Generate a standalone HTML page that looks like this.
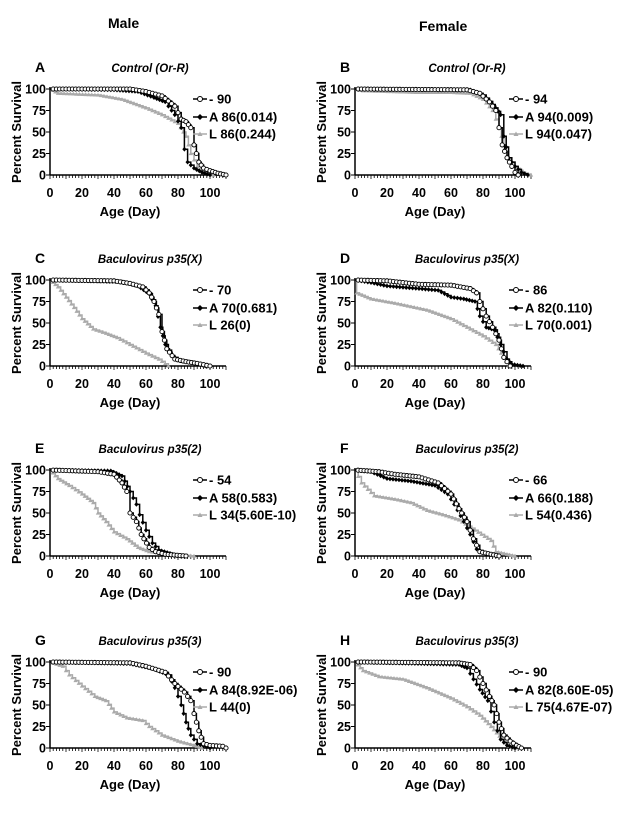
<!DOCTYPE html>
<html><head><meta charset="utf-8"><style>
body{margin:0;background:#fff;}
svg{display:block;font-family:"Liberation Sans",Arial,sans-serif;font-weight:bold;}
</style></head><body>
<svg id="fig" width="629" height="821" viewBox="0 0 629 821" xmlns="http://www.w3.org/2000/svg">
<text x="108" y="28" font-size="14">Male</text>
<text x="419" y="31" font-size="14">Female</text>
</svg>
<script>
const panelLetters=["A","B","C","D","E","F","G","H"];
const panelTitles=["Control (Or-R)","Control (Or-R)","Baculovirus p35(X)","Baculovirus p35(X)","Baculovirus p35(2)","Baculovirus p35(2)","Baculovirus p35(3)","Baculovirus p35(3)"];
const legendCtrl=["-  90","-  94","-  70","-  86","-  54","-  66","-  90","-  90"];
const legendA=["A 86(0.014)","A 94(0.009)","A 70(0.681)","A 82(0.110)","A 58(0.583)","A 66(0.188)","A 84(8.92E-06)","A 82(8.60E-05)"];
const legendL=["L 86(0.244)","L 94(0.047)","L 26(0)","L 70(0.001)","L 34(5.60E-10)","L 54(0.436)","L 44(0)","L 75(4.67E-07)"];
const xTicks=[0,20,40,60,80,100];
const yTicks=[0,25,50,75,100];
const ctrlSeries=[
[[0,100],[50,100],[60,97],[70,92],[78,80],[82,65],[85,62],[88,55],[90,35],[93,15],[96,8],[100,5],[105,2],[110,0]],
[[0,100],[70,99],[78,95],[84,85],[88,75],[90,55],[92,35],[95,20],[98,10],[100,3],[102,0]],
[[0,100],[40,99],[50,96],[58,92],[62,85],[65,75],[68,60],[70,40],[73,20],[78,8],[85,5],[92,3],[100,0]],
[[0,100],[20,99],[40,95],[60,94],[72,90],[76,85],[78,75],[82,58],[86,45],[90,30],[93,10],[97,0]],
[[0,100],[30,98],[40,95],[45,85],[48,75],[50,50],[54,40],[57,25],[62,10],[66,5],[72,2],[85,0]],
[[0,100],[15,98],[25,95],[40,92],[52,85],[60,72],[65,55],[70,40],[74,20],[78,5],[85,2],[90,0]],
[[0,100],[50,99],[60,95],[72,88],[78,75],[84,65],[88,55],[90,40],[93,20],[96,5],[100,3],[108,2],[110,0]],
[[0,100],[65,99],[72,97],[76,90],[80,75],[84,60],[87,50],[90,30],[93,15],[97,8],[101,3],[104,0]]];
const aSeries=[
[[0,100],[40,99],[55,97],[65,90],[72,85],[78,70],[82,55],[84,30],[86,15],[90,8],[95,3],[100,0]],
[[0,100],[72,99],[80,93],[86,82],[91,70],[93,45],[96,20],[100,10],[104,3],[108,0]],
[[0,100],[45,98],[55,93],[62,84],[66,70],[69,45],[72,25],[76,12],[82,6],[90,4],[97,0]],
[[0,100],[10,97],[20,93],[40,90],[52,88],[60,80],[68,78],[75,75],[78,58],[82,45],[87,42],[91,25],[95,8],[98,2],[105,0]],
[[0,100],[38,99],[45,93],[50,75],[54,60],[56,48],[60,30],[64,15],[68,7],[75,3],[80,0]],
[[0,100],[10,98],[20,90],[35,87],[50,82],[58,72],[62,60],[68,40],[72,25],[76,8],[82,3],[90,0]],
[[0,100],[50,98],[65,92],[74,85],[78,70],[82,50],[85,30],[88,15],[92,5],[100,0]],
[[0,100],[65,97],[70,93],[74,80],[78,68],[83,55],[87,30],[91,10],[95,3],[100,0]]];
const lSeries=[
[[0,100],[5,95],[30,93],[45,88],[60,78],[70,70],[80,60],[85,45],[88,25],[92,10],[96,5],[102,0]],
[[0,100],[5,98],[40,96],[60,96],[72,95],[80,88],[86,75],[90,55],[93,35],[96,20],[100,10],[105,3],[110,0]],
[[0,100],[5,92],[10,80],[15,68],[20,55],[27,43],[35,38],[42,33],[50,25],[60,15],[68,8],[74,0]],
[[0,100],[1,85],[10,78],[25,73],[45,65],[60,55],[70,45],[80,35],[88,25],[93,10],[96,0]],
[[0,100],[5,90],[12,82],[20,72],[27,62],[30,50],[35,40],[40,28],[48,20],[55,10],[62,5],[72,3],[90,0]],
[[0,100],[4,85],[12,70],[25,66],[35,62],[45,53],[55,48],[65,42],[75,30],[85,18],[88,5],[95,2],[100,0]],
[[0,100],[8,95],[12,85],[20,72],[28,60],[35,55],[40,42],[48,35],[58,32],[62,25],[70,15],[80,8],[90,3],[95,0]],
[[0,100],[5,90],[15,83],[30,80],[45,70],[60,58],[70,48],[78,38],[85,25],[92,10],[96,2],[100,0]]];

const NS="http://www.w3.org/2000/svg";
const svg=document.getElementById('fig');
function mk(tag,attrs,parent){const e=document.createElementNS(NS,tag);for(const k in attrs)e.setAttribute(k,attrs[k]);(parent||svg).appendChild(e);return e;}
const colX=[50,355], legOff=[143,154], rowTop=[89,280,470,662], plotH=86, pxPerDay=1.6;

for(let p=0;p<8;p++){
  const ox=colX[p%2], top=rowTop[Math.floor(p/2)], bot=top+plotH;
  const sx=d=>ox+d*pxPerDay, sy=v=>bot-v/100*plotH;
  const g=mk('g',{});
  
  
  const t1=mk('text',{x:ox-15,y:top-17,'font-size':14},g);t1.textContent=panelLetters[p];
  
  const t2=mk('text',{x:ox+(p%2?112:100),y:top-17,'font-size':11.5,'font-style':'italic','text-anchor':'middle'},g);t2.textContent=panelTitles[p];
  
  const yt=mk('text',{transform:`translate(${ox-29},${(top+bot)/2}) rotate(-90)`,'font-size':13,'text-anchor':'middle'},g);yt.textContent='Percent Survival';
  
  const xt=mk('text',{x:sx(50),y:bot+41,'font-size':13,'text-anchor':'middle'},g);xt.textContent='Age (Day)';
  
  mk('line',{x1:ox,y1:top-2,x2:ox,y2:bot,stroke:'#000','stroke-width':1.5},g);
  mk('line',{x1:ox,y1:bot,x2:sx(110),y2:bot,stroke:'#000','stroke-width':1.5},g);
  for(let d=0;d<=110;d+=2){mk('line',{x1:sx(d),y1:bot,x2:sx(d),y2:bot+(d%10==0?4:3),stroke:'#000','stroke-width':0.8},g);}
  xTicks.forEach(v=>{const t=mk('text',{x:sx(v),y:bot+22,'font-size':12.5,'text-anchor':'middle'},g);t.textContent=v;
    });
  yTicks.forEach(v=>{mk('line',{x1:ox-4,y1:sy(v),x2:ox,y2:sy(v),stroke:'#000','stroke-width':1},g);
    const t=mk('text',{x:ox-4,y:sy(v)+4.5,'font-size':12.5,'text-anchor':'end'},g);t.textContent=v;
    });
  const series=[[lSeries[p],'#aaa','tri','survival-curve-l'],[aSeries[p],'#000','dia','survival-curve-a'],[ctrlSeries[p],'#000','circ','survival-curve-control']];
  series.forEach(([pts,col,m,nm])=>{
    let d=`M${sx(pts[0][0])},${sy(pts[0][1])}`;const mpts=[];
    for(let i=1;i<pts.length;i++){
      const [x0,y0]=pts[i-1],[x1,y1]=pts[i];
      const n=Math.max(1,Math.round((x1-x0)/2));
      for(let k=1;k<=n;k++){const xx=x0+(x1-x0)*k/n, yy=y0+(y1-y0)*k/n;
        d+=`H${sx(xx)}V${sy(yy)}`;mpts.push([xx,yy]);}
    }
    const path=mk('path',{d:d,fill:'none',stroke:col,'stroke-width':1.5},g);
    
    mpts.forEach(([xx,yy])=>{
      const cx=sx(xx),cy=sy(yy);
      if(m=='circ')mk('circle',{cx:cx,cy:cy,r:2.1,fill:'#fff',stroke:'#000','stroke-width':0.9},g);
      else if(m=='dia')mk('path',{d:`M${cx},${cy-2.4}L${cx+2.1},${cy}L${cx},${cy+2.4}L${cx-2.1},${cy}Z`,fill:'#000'},g);
      else mk('path',{d:`M${cx},${cy-2.2}L${cx+2.2},${cy+1.6}L${cx-2.2},${cy+1.6}Z`,fill:'#aaa'},g);
    });
  });
  const lx=ox+legOff[p%2];
  [[legendCtrl[p],'circ','#000',10],[legendA[p],'dia','#000',28],[legendL[p],'tri','#aaa',45]].forEach(([txt,m,col,dy],i)=>{
    const y=top+dy;
    const lg=mk('g',{},g);
    
    mk('line',{x1:lx,y1:y,x2:lx+14,y2:y,stroke:col,'stroke-width':1.5},lg);
    if(m=='circ')mk('circle',{cx:lx+7,cy:y,r:2.5,fill:'#fff',stroke:'#000','stroke-width':1},lg);
    else if(m=='dia')mk('path',{d:`M${lx+7},${y-3}L${lx+10},${y}L${lx+7},${y+3}L${lx+4},${y}Z`,fill:'#000'},lg);
    else mk('path',{d:`M${lx+7},${y-2.5}L${lx+9.5},${y+2}L${lx+4.5},${y+2}Z`,fill:'#aaa'},lg);
    const t=mk('text',{x:lx+16,y:y+4.5,'font-size':13},lg);t.textContent=txt;t.setAttribute('xml:space','preserve');
  });
}
</script>
</body></html>
